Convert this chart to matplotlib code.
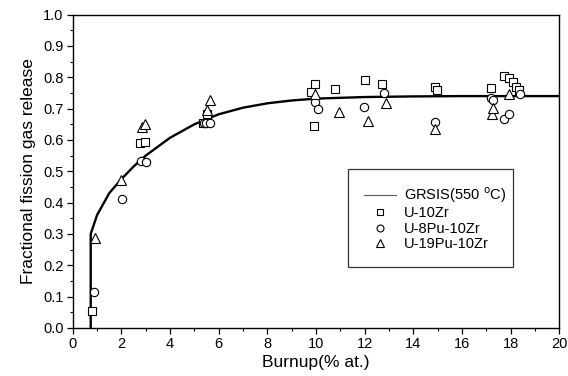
import matplotlib
matplotlib.use("Agg")
import matplotlib.pyplot as plt
from matplotlib.lines import Line2D
from matplotlib.ticker import MultipleLocator

plt.rcParams['font.family'] = ['Liberation Sans', 'DejaVu Sans']

# GRSIS model curve (550 C)
curve_x = [0.74, 0.74, 1.0, 1.5, 2.0, 2.5, 3.0, 4.0, 5.0, 6.0, 7.0, 8.0, 9.0, 10.0, 12.0, 14.0, 16.0, 18.0, 20.0]
curve_y = [0.0, 0.30, 0.36, 0.43, 0.475, 0.515, 0.55, 0.607, 0.65, 0.682, 0.703, 0.717, 0.726, 0.732, 0.737, 0.739, 0.740, 0.740, 0.740]

# U-10Zr
u10zr_x = [0.81, 2.75, 2.96, 5.36, 5.52, 9.80, 9.96, 9.93, 10.78, 12.0, 12.69, 14.88, 14.95,
           17.17, 17.72, 17.92, 18.1, 18.2, 18.35]
u10zr_y = [0.053, 0.589, 0.592, 0.655, 0.682, 0.752, 0.779, 0.645, 0.763, 0.79, 0.779, 0.77, 0.76,
           0.765, 0.803, 0.799, 0.785, 0.77, 0.76]

# U-8Pu-10Zr
u8pu_x = [0.87, 2.04, 2.79, 3.02, 5.38, 5.49, 5.66, 9.96, 10.07, 11.97, 12.8, 14.9,
          17.17, 17.27, 17.72, 17.92, 18.39]
u8pu_y = [0.113, 0.413, 0.533, 0.528, 0.655, 0.653, 0.653, 0.72, 0.699, 0.704, 0.749, 0.658,
          0.735, 0.727, 0.666, 0.684, 0.746]

# U-19Pu-10Zr
u19pu_x = [0.91, 1.97, 2.83, 2.99, 5.52, 5.63, 9.96, 10.95, 12.12, 12.86, 14.9,
           17.24, 17.27, 17.92]
u19pu_y = [0.287, 0.472, 0.64, 0.651, 0.696, 0.728, 0.747, 0.69, 0.661, 0.717, 0.635,
           0.684, 0.703, 0.748]

fig = plt.figure(figsize=(5.68, 3.76), dpi=100)
ax = fig.add_axes([0.128, 0.128, 0.857, 0.833])

ax.plot(curve_x, curve_y, color='black', lw=1.7, zorder=2)
mk = dict(linestyle='none', mfc='white', mec='black', mew=0.8, zorder=3)
ax.plot(u10zr_x, u10zr_y, marker='s', ms=5.2, **mk)
ax.plot(u8pu_x, u8pu_y, marker='o', ms=6, **mk)
ax.plot(u19pu_x, u19pu_y, marker='^', ms=6.5, **mk)

ax.set_xlim(0, 20)
ax.set_ylim(0, 1.0)
ax.xaxis.set_major_locator(MultipleLocator(2))
ax.xaxis.set_minor_locator(MultipleLocator(1))
ax.yaxis.set_major_locator(MultipleLocator(0.1))
ax.yaxis.set_minor_locator(MultipleLocator(0.05))
ax.yaxis.set_major_formatter(plt.FormatStrFormatter('%.1f'))
ax.tick_params(which='both', direction='out', top=False, right=False, labelsize=10.5)
ax.tick_params(which='major', length=4, width=0.9, pad=2.5)
ax.tick_params(which='minor', length=2.5, width=0.8)
for s in ax.spines.values():
    s.set_linewidth(1.0)

ax.set_xlabel('Burnup(% at.)', fontsize=12.5, labelpad=3)
ax.set_ylabel('Fractional fission gas release', fontsize=12.5, labelpad=5)

handles = [
    Line2D([], [], color='0.35', lw=0.8),
    Line2D([], [], marker='s', ms=4.5, **mk),
    Line2D([], [], marker='o', ms=5, **mk),
    Line2D([], [], marker='^', ms=5.5, **mk),
]
labels = ['GRSIS(550 $^{\\mathrm{o}}$C)', 'U-10Zr', 'U-8Pu-10Zr', 'U-19Pu-10Zr']
leg = ax.legend(handles, labels, loc='lower left', bbox_to_anchor=(0.566, 0.193, 0.339, 0.266),
                mode='expand', fontsize=10.5, frameon=True, fancybox=False, borderpad=1.1,
                handlelength=2.2, handletextpad=0.5, labelspacing=0.1, borderaxespad=0)
leg.get_frame().set_edgecolor('black')
leg.get_frame().set_linewidth(0.9)

fig.savefig('out.png', dpi=100)
